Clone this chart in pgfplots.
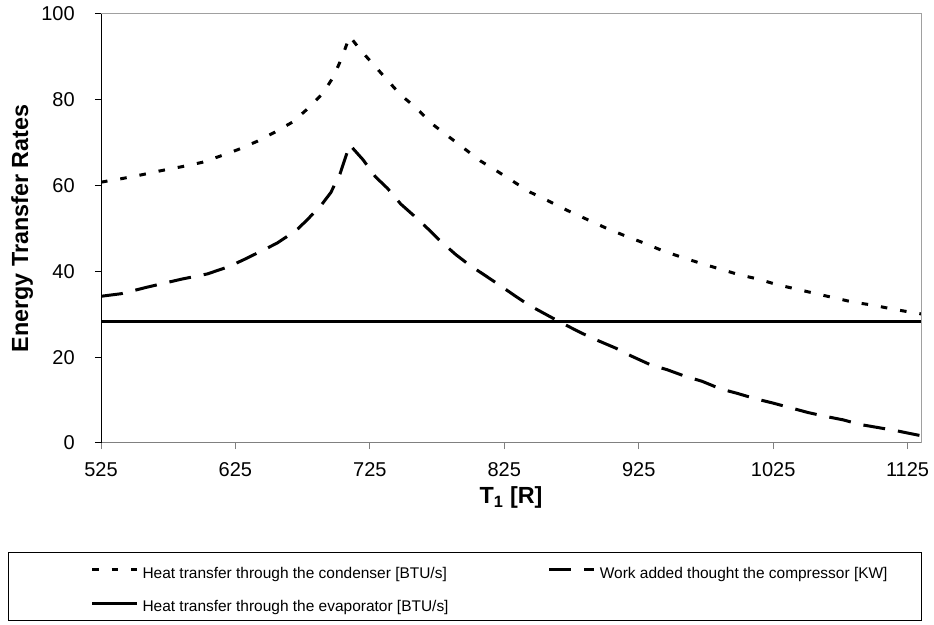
\documentclass[border=0pt]{standalone}
\usepackage{pgfplots}
\pgfplotsset{compat=1.18}
\usepackage{fontspec}
\setmainfont{Liberation Sans}

\definecolor{frame}{RGB}{160,160,160}
\definecolor{xaxis}{RGB}{128,128,128}

\begin{document}
\begin{tikzpicture}
% 1 px of the reference = 0.75pt
\path[use as bounding box] (0,0) rectangle (700.5pt,468pt);
\begin{axis}[
    at={(75.75pt,135.75pt)}, anchor=south west,
    width=615pt, height=321.75pt, scale only axis,
    xmin=525, xmax=1135, ymin=0, ymax=100,
    xtick={525,625,...,1125}, ytick={0,20,...,100},
    axis x line*=bottom, axis y line*=left,
    x axis line style={draw=xaxis, line width=0.75pt, -},
    y axis line style={draw=black, line width=0.75pt, -},
    tick align=outside, major tick length=4.5pt,
    xtick style={draw=xaxis, line width=0.75pt},
    ytick style={draw=black, line width=0.75pt},
    /pgf/number format/1000 sep={},
    /pgf/number format/assume math mode=true,
    tick label style={font=\fontsize{15}{18}\selectfont, inner sep=0pt},
    xticklabel shift=9.75pt, yticklabel shift=15pt,
    xlabel={\textbf{T\textsubscript{1} [R]}},
    ylabel={\textbf{Energy Transfer Rates}},
    label style={font=\fontsize{17.5}{21}\selectfont},
    xlabel style={at={(axis description cs:0.5,-0.128)}, anchor=center},
    ylabel style={at={(axis description cs:-0.0963,0.5)}, anchor=center},
    legend columns=2,
    legend cell align=left,
    legend image code/.code={\draw[#1] (0pt,0pt) -- (33.75pt,0pt);},
    legend style={
        at={(rel axis cs:-0.1134,-0.2541)}, anchor=north west,
        draw=black, line width=0.75pt,
        inner xsep=61.5pt, inner ysep=3pt,
        row sep=5.25pt,
        font=\fontsize{11.6}{14}\selectfont,
        nodes={inner xsep=3pt, inner ysep=2.25pt, text height=14pt, text depth=1.5pt},
    },
    after end axis/.code={
        \draw[frame, line width=0.75pt] (rel axis cs:0,1) -- (rel axis cs:1,1) -- (rel axis cs:1,0);
    },
]
\addplot[black, line width=2.25pt, dash pattern=on 4.9pt off 9.75pt]
    coordinates {(525,60.8)(540,61.6)(555,62.5)(570,63.5)(585,64.4)(600,65.4)
    (613,66.8)(627,68.4)(641,70.3)(654,72.4)(668,74.9)(679,78.0)(690,81.5)
    (698,85.4)(704,89.7)(710,94.8)(718,91.6)(728,88.1)(738,84.6)(748,81.1)
    (760,78.0)(770,74.7)(782,71.8)(795,68.7)(807,65.8)(820,63.3)(832,60.9)
    (844,58.5)(858,56.4)(872,54.2)(886,52.2)(900,50.2)(914,48.4)(929,46.6)
    (943,44.8)(957,43.3)(971,41.9)(986,40.5)(1000,39.2)(1014,38.2)(1028,36.9)
    (1042,35.9)(1057,34.8)(1071,33.8)(1085,32.8)(1100,32.1)(1114,31.2)
    (1129,30.4)(1135,30.1)};
\addlegendentry{\makebox[301pt][l]{Heat transfer through the condenser [BTU/s]}}
\addplot[black, line width=2.25pt, dash pattern=on 16.5pt off 9.75pt]
    coordinates {(525,34.2)(540,34.8)(559,36.3)(585,38.2)(604,39.4)(620,41.1)
    (631,42.7)(646,45.0)(656,46.6)(670,49.5)(678,51.9)(689,55.5)(696,58.4)
    (703,62.9)(710,69.5)(720,66.0)(729,62.1)(738,59.4)(748,55.7)(757,53.2)
    (769,49.7)(776,47.5)(789,43.9)(799,41.5)(811,39.0)(821,36.9)(833,34.3)
    (843,32.2)(857,29.8)(867,28.1)(882,25.7)(893,24.1)(908,22.1)(920,20.2)
    (934,18.2)(946,17.1)(960,15.5)(972,14.4)(986,12.6)(998,11.6)(1012,10.3)
    (1025,9.3)(1038,8.2)(1051,7.1)(1064,6.2)(1077,5.4)(1090,4.3)(1103,3.6)
    (1116,2.9)(1135,1.7)};
\addlegendentry{\makebox[176.5pt][l]{Work added thought the compressor [KW]}}
\addplot[black, line width=2.25pt]
    coordinates {(525,28.4)(1135,28.4)};
\addlegendentry{Heat transfer through the evaporator [BTU/s]}
\end{axis}
\end{tikzpicture}
\end{document}
